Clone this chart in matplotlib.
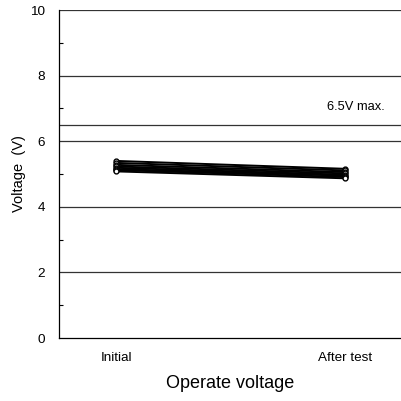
import matplotlib
matplotlib.use("Agg")
import matplotlib.pyplot as plt
from matplotlib.ticker import MultipleLocator

stages = ["Initial", "After test"]
initial_v = [5.40, 5.34, 5.28, 5.23, 5.19, 5.15, 5.12, 5.08]
after_v = [5.16, 5.11, 5.06, 5.02, 4.98, 4.95, 4.91, 4.87]
max_voltage = 6.5

plt.rcParams["font.family"] = ["Arial", "Liberation Sans", "DejaVu Sans"]

fig = plt.figure(figsize=(4.02, 4.01), dpi=100)
ax = fig.add_axes([0.147, 0.157, 0.853, 0.818])

for gy in [2, 4, 6, 8, 10]:
    ax.axhline(gy, color="#333333", lw=0.9, zorder=1)
ax.axhline(max_voltage, color="#333333", lw=0.9, zorder=1)

xs = [0, 1]
for a, b in zip(initial_v, after_v):
    ax.plot(xs, [a, b], color="black", lw=1.4, marker="o", markersize=3.5,
            markerfacecolor="white", markeredgecolor="black", markeredgewidth=1.0, zorder=3)

ax.text(1.05, 7.04, "6.5V max.", fontsize=9.3, ha="center", va="center")

ax.set_xlim(-0.25, 1.25)
ax.set_ylim(0, 10)
ax.set_xticks(xs)
ax.set_xticklabels(stages, fontsize=9.7)
ax.tick_params(axis="x", length=0, pad=10)
ax.yaxis.set_major_locator(MultipleLocator(2))
ax.yaxis.set_minor_locator(MultipleLocator(1))
ax.tick_params(axis="y", which="major", length=0, labelsize=9.7, pad=10)
ax.tick_params(axis="y", which="minor", direction="in", length=3, width=0.8)
for s in ["top", "right"]:
    ax.spines[s].set_visible(False)
ax.spines["left"].set_linewidth(0.9)
ax.spines["bottom"].set_linewidth(0.9)

ax.set_ylabel("Voltage  (V)", fontsize=10.5, labelpad=3)
ax.set_xlabel("Operate voltage", fontsize=13, labelpad=8)

fig.savefig("out.png", dpi=100)
